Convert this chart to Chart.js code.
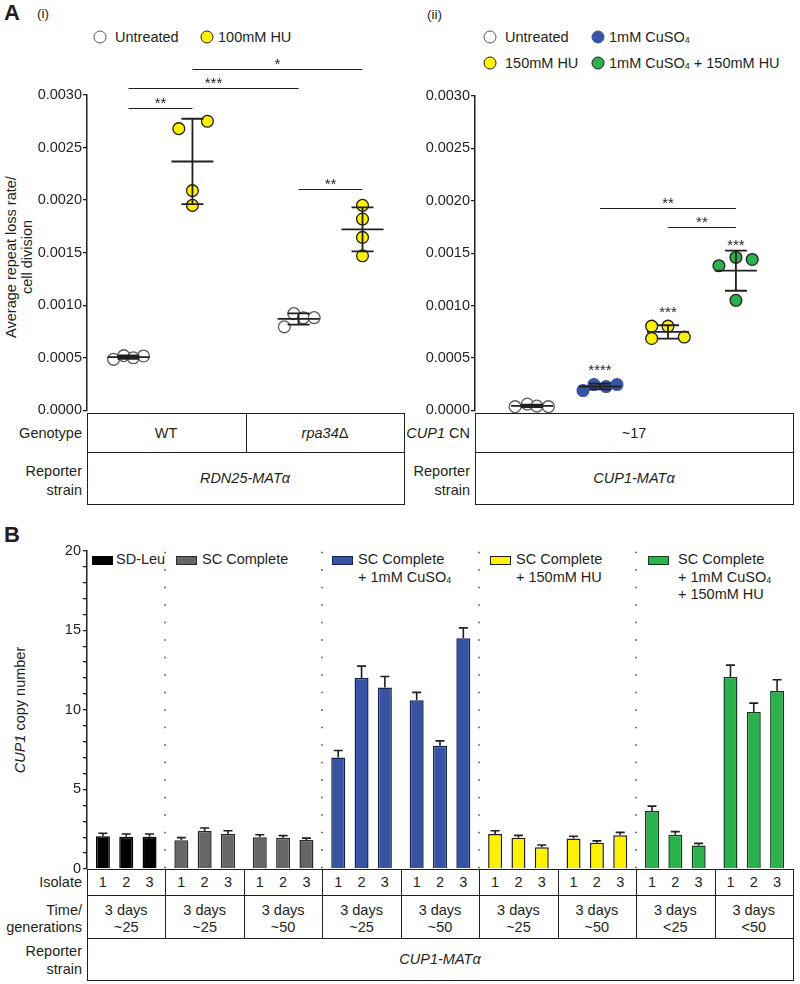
<!DOCTYPE html>
<html>
<head>
<meta charset="utf-8">
<script src="https://cdn.jsdelivr.net/npm/chart.js@4.4.1/dist/chart.umd.min.js"></script>
<style>
  body { margin: 0; background: #fff; }
  #fig { position: relative; width: 800px; height: 984px; overflow: hidden;
         font-family: "Liberation Sans", Arial, sans-serif; font-size: 14.5px; color: #231f20; }
  #fig canvas { position: absolute; z-index: 2; }
  .t { position: absolute; white-space: nowrap; line-height: 1.15; z-index: 1; }
  .ln { position: absolute; background: #231f20; z-index: 1; }
  .dot { position: absolute; width: 13px; height: 13px; border-radius: 50%; box-sizing: border-box;
         border: 1.4px solid #231f20; transform: translate(-50%, -50%); }
  .sw { position: absolute; width: 21px; height: 9px; box-sizing: border-box; border: 1.5px solid; }
  sub { font-size: 62%; vertical-align: -1px; line-height: 0; }
</style>
</head>
<body>
<div id="fig">
  <canvas id="chartI" width="410" height="380" style="left:0;top:40px"></canvas>
  <canvas id="chartII" width="400" height="380" style="left:400px;top:40px"></canvas>
  <canvas id="chartB" width="800" height="340" style="left:0;top:540px"></canvas>
</div>
<script>
/* ---------- data ---------- */

// A(i) RDN25-MATα: average repeat loss rate / cell division
const groupsI = ["WT untreated", "WT 100mM HU", "rpa34Δ untreated", "rpa34Δ 100mM HU"];
const wtUntreated = [0.000485, 0.00052, 0.0005, 0.000517];
const wtHU = [0.00268, 0.00275, 0.00209, 0.00195];
const rpaUntreated = [0.000794, 0.00092, 0.00088, 0.000882];
const rpaHU = [0.00195, 0.00182, 0.001645, 0.00147];
// [group a, group b, bar level, label]
const sigI = [[0, 1, 0.00288, "**"], [0, 2, 0.00307, "***"], [1, 3, 0.00325, "*"], [2, 3, 0.00211, "**"]];

// A(ii) CUP1-MATα
const groupsII = ["Untreated", "1mM CuSO4", "150mM HU", "1mM CuSO4 + 150mM HU"];
const cupUntreated = [0.000035, 0.00006, 0.00004, 0.000035];
const cupCu = [0.000189, 0.000246, 0.000227, 0.000246];
const cupHU = [0.000803, 0.000803, 0.000686, 0.000699];
const cupCuHU = [0.00138, 0.00146, 0.00144, 0.00105];
const sigII = [[1, 3, 0.00193, "**"], [2, 3, 0.00175, "**"]];
// [group, label level, label]
const starsII = [[1, 0.00041, "****"], [2, 0.00097, "***"], [3, 0.00161, "***"]];

const rateTicks = [0, 0.0005, 0.001, 0.0015, 0.002, 0.0025, 0.003];

// B: CUP1 copy number, 9 condition/time blocks x 3 isolates
const blocks = ["SD-Leu", "SC 25", "SC 50", "Cu 25", "Cu 50", "HU 25", "HU 50", "CuHU 25", "CuHU 50"];
const generations = ["~25", "~25", "~50", "~25", "~50", "~25", "~50", "<25", "<50"];
const isolate1 = [2.05, 1.8, 2.0, 7.0, 10.6, 2.2, 1.92, 3.65, 12.06];
const isolate2 = [2.02, 2.38, 1.97, 12.0, 7.75, 1.97, 1.65, 2.15, 9.87];
const isolate3 = [2.02, 2.22, 1.82, 11.4, 14.5, 1.37, 2.12, 1.47, 11.19];
const err1 = [0.2, 0.17, 0.15, 0.45, 0.5, 0.2, 0.14, 0.3, 0.75];
const err2 = [0.18, 0.2, 0.13, 0.75, 0.3, 0.14, 0.12, 0.2, 0.55];
const err3 = [0.18, 0.18, 0.12, 0.7, 0.65, 0.14, 0.18, 0.14, 0.7];
const cnTicks = [0, 5, 10, 15, 20];

/* ---------- layout / style ---------- */
const ink = "#231f20";
const fam = '"Liberation Sans", Arial, sans-serif';
const WHITE = "#ffffff", YEL = "#fff200", BLUE = "#3953a4", GREEN = "#2bb24c", GREY = "#666666";

const posI = [-1.72, -0.78, 0.78, 1.72];
const jitterI = [[-0.22, -0.07, 0.07, 0.22], [-0.2, 0.22, 0, 0], [-0.21, -0.07, 0.07, 0.23], [0, 0, 0, 0]];
const posII = [-1.5, -0.5, 0.5, 1.5];
const jitterII = [[-0.25, -0.07, 0.07, 0.24], [-0.25, -0.09, 0.09, 0.25], [-0.24, 0, -0.24, 0.24], [-0.25, 0, 0.24, 0]];

Chart.defaults.font.family = fam;
Chart.defaults.font.size = 14.5;
Chart.defaults.color = ink;

const mean = a => a.reduce((s, v) => s + v, 0) / a.length;
const sd = a => { const m = mean(a); return Math.sqrt(a.reduce((s, v) => s + (v - m) ** 2, 0) / (a.length - 1)); };

/* mean ± SD, significance bars and stars */
function dotStats(groups, pos, sig, stars) {
    return {
        id: "dotStats",
        afterDatasetsDraw(chart) {
            const { ctx, scales: { x, y } } = chart;
            ctx.save();
            ctx.strokeStyle = ink;
            ctx.lineWidth = 1.8;
            groups.forEach((vals, i) => {
                const cx = x.getPixelForValue(pos[i]);
                const m = mean(vals), s = sd(vals);
                const ym = y.getPixelForValue(m), yt = y.getPixelForValue(m + s), yb = y.getPixelForValue(m - s);
                ctx.beginPath();
                ctx.moveTo(cx - 21, ym); ctx.lineTo(cx + 21, ym);
                ctx.moveTo(cx, yt); ctx.lineTo(cx, yb);
                ctx.moveTo(cx - 11, yt); ctx.lineTo(cx + 11, yt);
                ctx.moveTo(cx - 11, yb); ctx.lineTo(cx + 11, yb);
                ctx.stroke();
            });
            ctx.lineWidth = 1.2;
            ctx.fillStyle = ink;
            ctx.font = "15px " + fam;
            ctx.textAlign = "center";
            sig.forEach(([a, b, lvl, lab]) => {
                const x1 = x.getPixelForValue(pos[a]), x2 = x.getPixelForValue(pos[b]);
                const yy = Math.round(y.getPixelForValue(lvl)) + 0.5;
                ctx.beginPath(); ctx.moveTo(x1, yy); ctx.lineTo(x2, yy); ctx.stroke();
                ctx.fillText(lab, (x1 + x2) / 2, yy - 1);
            });
            stars.forEach(([g, lvl, lab]) => {
                ctx.fillText(lab, x.getPixelForValue(pos[g]), y.getPixelForValue(lvl) + 8);
            });
            ctx.restore();
        }
    };
}

function dotChart(id, groups, names, pos, jitter, fills, edges, range, sig, stars, pad, yWidth) {
    return new Chart(document.getElementById(id), {
        type: "scatter",
        data: {
            datasets: groups.map((vals, i) => ({
                label: names[i],
                data: vals.map((v, k) => ({ x: pos[i] + jitter[i][k], y: v })),
                backgroundColor: fills[i],
                borderColor: edges[i],
                pointRadius: 5.9,
                pointBorderWidth: 1.3,
                clip: false
            }))
        },
        options: {
            responsive: false,
            animation: false,
            layout: { autoPadding: false, padding: pad },
            plugins: { legend: { display: false }, tooltip: { enabled: false } },
            scales: {
                x: { type: "linear", display: false, min: -range, max: range },
                y: {
                    min: 0, max: 0.003,
                    afterBuildTicks: s => { s.ticks = rateTicks.map(v => ({ value: v })); },
                    ticks: { callback: v => v.toFixed(4), padding: 1 },
                    grid: { drawOnChartArea: false, tickLength: 4, color: ink, lineWidth: 1.3 },
                    border: { color: ink, width: 1.5 },
                    afterFit: s => { s.width = yWidth; }
                }
            }
        },
        plugins: [dotStats(groups, pos, sig, stars)]
    });
}

dotChart("chartI", [wtUntreated, wtHU, rpaUntreated, rpaHU], groupsI, posI, jitterI,
    [WHITE, YEL, WHITE, YEL], ["#5a5a5a", ink, "#5a5a5a", ink], 2.33, sigI, [],
    { top: 55, right: 6, bottom: 7, left: 0 }, 87);

dotChart("chartII", [cupUntreated, cupCu, cupHU, cupCuHU], groupsII, posII, jitterII,
    [WHITE, BLUE, YEL, GREEN], ["#5a5a5a", BLUE, ink, ink], 2.34, sigII, starsII,
    { top: 56, right: 7, bottom: 7, left: 0 }, 75);

/* ---------- panel B ---------- */
const blockFill = ["#000000", GREY, GREY, BLUE, BLUE, YEL, YEL, GREEN, GREEN];
const blockEdge = ["#000000", "#2a2a2a", "#2a2a2a", "#16224f", "#16224f", ink, ink, "#123d1c", "#123d1c"];
const errs = [err1, err2, err3];

const barExtras = {
    id: "barExtras",
    afterDatasetsDraw(chart) {
        const { ctx, chartArea, scales: { x, y } } = chart;
        ctx.save();
        // dotted separators between media
        ctx.strokeStyle = "#444";
        ctx.lineWidth = 1.5;
        ctx.setLineDash([1.5, 16]);
        [0, 2, 4, 6].forEach(i => {
            const px = Math.round((x.getPixelForValue(i) + x.getPixelForValue(i + 1)) / 2);
            ctx.beginPath(); ctx.moveTo(px, chartArea.top + 1); ctx.lineTo(px, chartArea.bottom); ctx.stroke();
        });
        ctx.setLineDash([]);
        // SD error bars (upper)
        ctx.strokeStyle = ink;
        ctx.lineWidth = 1.6;
        chart.data.datasets.forEach((ds, d) => {
            chart.getDatasetMeta(d).data.forEach((el, i) => {
                const top = y.getPixelForValue(ds.data[i] + errs[d][i]);
                ctx.beginPath();
                ctx.moveTo(el.x, el.y); ctx.lineTo(el.x, top);
                ctx.moveTo(el.x - 4.5, top); ctx.lineTo(el.x + 4.5, top);
                ctx.stroke();
            });
        });
        ctx.restore();
    }
};

const chartB = new Chart(document.getElementById("chartB"), {
    type: "bar",
    data: {
        labels: blocks,
        datasets: [isolate1, isolate2, isolate3].map((vals, d) => ({
            label: "Isolate " + (d + 1),
            data: vals,
            backgroundColor: blockFill,
            borderColor: blockEdge,
            borderWidth: 1.5,
            categoryPercentage: 0.892,
            barPercentage: 0.6
        }))
    },
    options: {
        responsive: false,
        animation: false,
        layout: { autoPadding: false, padding: { top: 9, right: 7, bottom: 11, left: 0 } },
        plugins: { legend: { display: false }, tooltip: { enabled: false } },
        scales: {
            x: { display: false },
            y: {
                min: 0, max: 20,
                afterBuildTicks: s => {
                    s.ticks = [];
                    for (let v = 0; v <= 20; v++) s.ticks.push({ value: v });
                },
                ticks: { autoSkip: false, padding: 2, callback: v => cnTicks.includes(v) ? v : "" },
                grid: { drawOnChartArea: false, tickLength: 4, color: ink, lineWidth: 1.3 },
                border: { color: ink, width: 1.5 },
                afterFit: s => { s.width = 87; }
            }
        }
    },
    plugins: [barExtras]
});

/* ---------- HTML text, legends, tables ---------- */
const fig = document.getElementById("fig");

function text(html, x, y, align = "center", extra = "") {
    const d = document.createElement("div");
    d.className = "t";
    d.innerHTML = html;
    d.style.left = x + "px";
    d.style.top = y + "px";
    const tx = align === "left" ? "0" : align === "right" ? "-100%" : "-50%";
    d.style.transform = `translate(${tx}, -50%)` + (align === "rot" ? " rotate(-90deg)" : "");
    if (align === "rot") d.style.textAlign = "center";
    if (extra) d.style.cssText += extra;
    fig.appendChild(d);
    return d;
}
function line(x, y, w, h) {
    const d = document.createElement("div");
    d.className = "ln";
    Object.assign(d.style, { left: x + "px", top: y + "px", width: w + "px", height: h + "px" });
    fig.appendChild(d);
}
function box(x1, y1, x2, y2) {
    line(x1, y1, x2 - x1 + 1, 1); line(x1, y2, x2 - x1 + 1, 1);
    line(x1, y1, 1, y2 - y1); line(x2, y1, 1, y2 - y1);
}
function dot(x, y, fill, edge) {
    const d = document.createElement("div");
    d.className = "dot";
    Object.assign(d.style, { left: x + "px", top: y + "px", background: fill, borderColor: edge });
    fig.appendChild(d);
}
function swatch(x, y, fill, edge) {
    const d = document.createElement("div");
    d.className = "sw";
    Object.assign(d.style, { left: x + "px", top: y + "px", background: fill, borderColor: edge });
    fig.appendChild(d);
}

// panel labels
text("A", 4, 13, "left", "font-weight:bold;font-size:22px;");
text("(i)", 37, 14, "left", "font-size:13.5px;");
text("(ii)", 427, 15, "left", "font-size:13.5px;");
text("B", 4, 535, "left", "font-weight:bold;font-size:22px;");

// A legends
dot(100, 37, WHITE, "#5a5a5a"); text("Untreated", 115, 37, "left");
dot(207, 37, YEL, ink); text("100mM HU", 218, 37, "left");
dot(490, 37, WHITE, "#5a5a5a"); text("Untreated", 505, 37, "left");
dot(598, 37, BLUE, BLUE); text("1mM CuSO<sub>4</sub>", 609, 37, "left");
dot(490, 63, YEL, ink); text("150mM HU", 505, 63, "left");
dot(598, 63, GREEN, ink); text("1mM CuSO<sub>4</sub> + 150mM HU", 609, 63, "left");

// axis titles
text("Average repeat loss rate/<br>cell division", 19, 257, "rot", "line-height:16px;");
text("<i>CUP1</i> copy number", 20, 710, "rot");

// A(i) table
box(87, 413, 404, 504);
line(87, 452, 318, 1);
line(246, 413, 1, 39);
text("Genotype", 82, 433, "right");
text("Reporter", 82, 471, "right");
text("strain", 82, 490, "right");
text("WT", 166, 433);
text("<i>rpa34</i>Δ", 325, 433);
text("<i>RDN25-MATα</i>", 245, 478);

// A(ii) table
box(475, 413, 793, 504);
line(475, 452, 319, 1);
text("<i>CUP1</i> CN", 470, 433, "right");
text("Reporter", 470, 471, "right");
text("strain", 470, 490, "right");
text("~17", 634, 433);
text("<i>CUP1-MATα</i>", 634, 478);

// B legend
const legendB = [
    [92, 116, "#000000", "#000000", ["SD-Leu"]],
    [176, 202, GREY, "#2a2a2a", ["SC Complete"]],
    [332, 358, BLUE, "#16224f", ["SC Complete", "+ 1mM CuSO<sub>4</sub>"]],
    [490, 516, YEL, ink, ["SC Complete", "+ 150mM HU"]],
    [648, 678, GREEN, "#123d1c", ["SC Complete", "+ 1mM CuSO<sub>4</sub>", "+ 150mM HU"]]
];
legendB.forEach(([sx, tx, fill, edge, lines]) => {
    swatch(sx, 556, fill, edge);
    lines.forEach((l, k) => text(l, tx, 559 + k * 17.5, "left"));
});

// B table, aligned with the bar scale
const xs = chartB.scales.x;
const top0 = 540;
box(87, 869, 793, 980);
line(87, 895, 707, 1);
line(87, 938, 707, 1);
for (let i = 0; i < blocks.length - 1; i++) {
    const px = Math.round((xs.getPixelForValue(i) + xs.getPixelForValue(i + 1)) / 2);
    line(px, 869, 1, 69);
}
[0, 1, 2].forEach(d => {
    chartB.getDatasetMeta(d).data.forEach(el => text(String(d + 1), el.x, 882));
});
blocks.forEach((b, i) => {
    const cx = xs.getPixelForValue(i);
    text("3 days", cx, 910);
    text(generations[i], cx, 927);
});
text("Isolate", 82, 882, "right");
text("Time/", 82, 910, "right");
text("generations", 82, 927, "right");
text("Reporter", 82, 951, "right");
text("strain", 82, 969, "right");
text("<i>CUP1-MATα</i>", 440, 959);
</script>
</body>
</html>
